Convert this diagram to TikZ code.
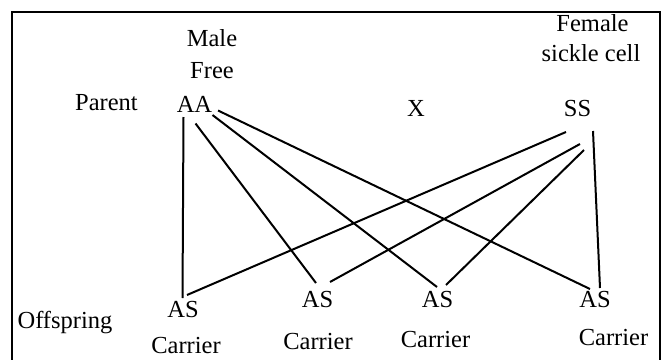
\documentclass[tikz,border=0pt]{standalone}
\usepackage{fontspec}
\setmainfont{Liberation Serif}
\begin{document}
\begin{tikzpicture}[x=1pt,y=-1pt,
  lbl/.style={anchor=base, inner sep=0pt, font=\fontsize{24.5}{28}\selectfont},
  link/.style={line width=2pt},
  frame/.style={line width=1.6pt}]
\useasboundingbox (0,0) rectangle (667,359);
\draw[frame] (12,370) -- (12,11.7) -- (660,11.7) -- (660,370);

% texts
\node[lbl] (male) at (212,46.7) {Male};
\node[lbl] (free) at (212,78) {Free};
\node[lbl] (female) at (592.5,31.7) {Female};
\node[lbl] (sickle) at (591,61.7) {sickle cell};
\node[lbl] (parent) at (106.5,110) {Parent};
\node[lbl] (AA) at (194.5,112) {AA};
\node[lbl] (X) at (416,116) {X};
\node[lbl] (SS) at (577.5,116) {SS};
\node[lbl] (offspring) at (65,328) {Offspring};
\node[lbl] (AS1) at (183,317) {AS};
\node[lbl] (AS2) at (317.5,307) {AS};
\node[lbl] (AS3) at (437.5,307) {AS};
\node[lbl] (AS4) at (595,307) {AS};
\node[lbl] (C1) at (186,353) {Carrier};
\node[lbl] (C2) at (318,349) {Carrier};
\node[lbl] (C3) at (435.5,347) {Carrier};
\node[lbl] (C4) at (613.5,345) {Carrier};

% connectors from AA
\draw[link] ([shift={(-11,5)}]AA.base) -- ([shift={(-0.5,-19)}]AS1.base);
\draw[link] ([shift={(1,11.5)}]AA.base) -- ([shift={(-1.5,-24)}]AS2.base);
\draw[link] ([shift={(18,3)}]AA.base) -- ([shift={(-0.5,-20)}]AS3.base);
\draw[link] ([shift={(23.5,-1.5)}]AA.base) -- ([shift={(-5,-18)}]AS4.base);
% connectors from SS
\draw[link] ([shift={(-11.5,16)}]SS.base) -- ([shift={(4,-22)}]AS1.base);
\draw[link] ([shift={(2.5,28)}]SS.base) -- ([shift={(12.5,-25)}]AS2.base);
\draw[link] ([shift={(6.5,34)}]SS.base) -- ([shift={(8.5,-22)}]AS3.base);
\draw[link] ([shift={(15.5,15)}]SS.base) -- ([shift={(5,-19)}]AS4.base);
\end{tikzpicture}
\end{document}
